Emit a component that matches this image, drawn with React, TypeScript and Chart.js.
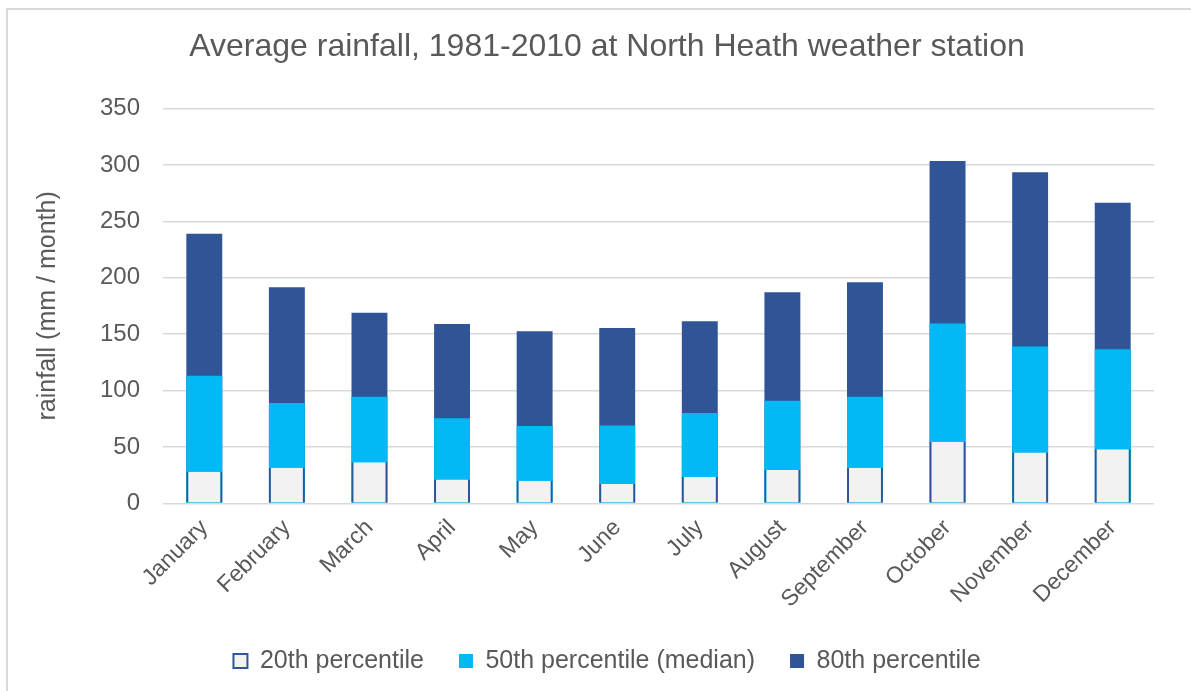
import React, { useEffect, useRef } from "react";
import { Chart, registerables } from "chart.js";

Chart.register(...registerables);

const months = [
  "January", "February", "March", "April", "May", "June",
  "July", "August", "September", "October", "November", "December",
];
const p20 = [28, 31.5, 36.5, 21, 20, 17, 23.5, 29.5, 31.5, 54.5, 45, 48];
const p50 = [113, 89, 94.5, 75.5, 68.5, 69, 80, 91, 94.5, 159.5, 139, 136.5];
const p80 = [239, 191.5, 169, 159, 152.5, 155.5, 161.5, 187, 196, 303.5, 293.5, 266.5];
const seriesNames = ["20th percentile", "50th percentile (median)", "80th percentile"];
const yMin = 0;
const yMax = 350;
const yStep = 50;
const titleText = "Average rainfall, 1981-2010 at North Heath weather station";
const yAxisTitle = "rainfall (mm / month)";

const FONT = "'Liberation Sans', Arial, Helvetica, sans-serif";
const TEXT = "#595959";
const GRID = "#D9D9D9";
const DARK = "#2F5597";
const LIGHT = "#00B9F5";
const PALE = "#F2F2F2";

export default function App() {
  const ref = useRef<HTMLCanvasElement>(null);

  useEffect(() => {
    if (!ref.current) return;
    const chart = new Chart(ref.current, {
      type: "bar",
      data: {
        labels: months,
        datasets: [
          {
            label: seriesNames[0],
            data: p20,
            backgroundColor: PALE,
            borderColor: DARK,
            borderWidth: { left: 2, right: 2, top: 0, bottom: 0 },
            borderSkipped: false,
            grouped: false,
          },
          {
            label: seriesNames[1],
            data: p50,
            backgroundColor: LIGHT,
            borderWidth: 0,
            grouped: false,
          },
          {
            label: seriesNames[2],
            data: p80,
            backgroundColor: DARK,
            borderWidth: 0,
            grouped: false,
          },
        ],
      },
      options: {
        responsive: false,
        animation: false,
        devicePixelRatio: 1,
        datasets: {
          bar: { barPercentage: 0.435, categoryPercentage: 1 },
        },
        layout: { padding: { left: 60, right: 37, top: 0, bottom: 7.5 } },
        plugins: {
          tooltip: { enabled: false },
          title: {
            display: true,
            text: titleText,
            color: TEXT,
            font: { family: FONT, size: 32, weight: "normal" },
            padding: { top: 28, bottom: 42.1 },
          },
          legend: {
            display: true,
            position: "bottom",
            labels: {
              color: TEXT,
              font: { family: FONT, size: 25 },
              boxWidth: 14,
              boxHeight: 14,
              padding: 35,
              generateLabels: (c: any) => {
                const items = (Chart.defaults as any).plugins.legend.labels.generateLabels(c);
                items[0].lineWidth = 2;
                items[0].strokeStyle = DARK;
                return items;
              },
            },
          },
        },
        scales: {
          x: {
            grid: { display: false, drawTicks: false },
            border: { display: false },
            ticks: {
              color: TEXT,
              font: { family: FONT, size: 23 },
              minRotation: 45,
              maxRotation: 45,
              padding: 11,
            },
            afterFit: (s: any) => {
              s.height = 110.2;
            },
          },
          y: {
            min: yMin,
            max: yMax,
            grid: { color: GRID, lineWidth: 1.5, drawTicks: false },
            border: { display: false },
            ticks: {
              stepSize: yStep,
              color: TEXT,
              font: { family: FONT, size: 24 },
              padding: 23,
            },
            title: {
              display: true,
              text: yAxisTitle,
              color: TEXT,
              font: { family: FONT, size: 25 },
              padding: { top: -27, bottom: 0 },
            },
            afterFit: (s: any) => {
              s.width = 103;
            },
          },
        },
      },
    });
    return () => chart.destroy();
  }, []);

  return (
    <div
      style={{
        position: "absolute",
        left: 0,
        top: 0,
        width: 1191,
        height: 691,
        background: "#ffffff",
        overflow: "hidden",
      }}
    >
      <canvas ref={ref} width={1191} height={691} style={{ display: "block" }} />
      <div
        style={{
          position: "absolute",
          left: 6,
          top: 8,
          width: 1200,
          height: 700,
          borderLeft: "2px solid #D9D9D9",
          borderTop: "2px solid #D9D9D9",
          pointerEvents: "none",
        }}
      />
    </div>
  );
}
